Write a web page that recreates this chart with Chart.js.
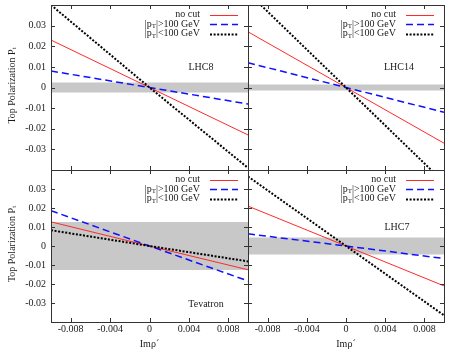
<!DOCTYPE html>
<html><head><meta charset="utf-8">
<script src="https://cdn.jsdelivr.net/npm/chart.js@4/dist/chart.umd.min.js"></script>
<style>
html,body{margin:0;padding:0;background:#fff;}
#wrap{position:relative;width:449px;height:362px;overflow:hidden;background:#fff;}
#wrap canvas{position:absolute;left:0;top:0;}
</style></head><body>
<div id="wrap">
<canvas id="c0" width="449" height="362"></canvas>
<canvas id="c1" width="449" height="362"></canvas>
<canvas id="c2" width="449" height="362"></canvas>
<canvas id="c3" width="449" height="362"></canvas>
</div>
<script>
// ---- data ----
const xValues = [-0.01, 0, 0.01];
const xTickValues = [-0.008, -0.004, 0, 0.004, 0.008];
const yTickValues = [-0.03, -0.02, -0.01, 0, 0.01, 0.02, 0.03];
const panelNames = ['LHC8', 'LHC14', 'Tevatron', 'LHC7'];
const seriesNames = ['no cut', '|pT|>100 GeV', '|pT|<100 GeV'];

const lhc8NoCut  = [0.023, 0, -0.023];
const lhc8HighPt = [0.008, 0, -0.008];
const lhc8LowPt  = [0.040, 0, -0.039];
const lhc8Band   = 0.0024;

const lhc14NoCut  = [0.027, 0, -0.027];
const lhc14HighPt = [0.012, 0, -0.012];
const lhc14LowPt  = [0.046, 0, -0.046];
const lhc14Band   = 0.0015;

const tevNoCut  = [0.0127, 0, -0.0125];
const tevHighPt = [0.0186, 0, -0.0184];
const tevLowPt  = [0.0083, 0, -0.0081];
const tevBand   = 0.0126;

const lhc7NoCut  = [0.021, 0, -0.021];
const lhc7HighPt = [0.0064, 0, -0.0066];
const lhc7LowPt  = [0.0366, 0, -0.0365];
const lhc7Band   = 0.0045;

const yTitle = 'Top Polarization P';
const yTitleSub = 't';
const xTitle = 'Im\u03C1\u00B4';

// ---- styling / layout ----
const FONT = "'Liberation Serif', 'DejaVu Serif', serif";
const TEXT = '#1a1a1a';
const RED = '#ff2a2a', BLUE = '#1010ff', BLACK = '#000000', GRAY = '#c8c8c8';

const panels = [
  {id:'c0', name:panelNames[0], box:[51,5,248,170],  s:[lhc8NoCut, lhc8HighPt, lhc8LowPt],   band:lhc8Band,  showX:false, showY:true,  label:[201,67]},
  {id:'c1', name:panelNames[1], box:[248,5,444,170], s:[lhc14NoCut, lhc14HighPt, lhc14LowPt], band:lhc14Band, showX:false, showY:false, label:[399,67]},
  {id:'c2', name:panelNames[2], box:[51,170,248,322], s:[tevNoCut, tevHighPt, tevLowPt],     band:tevBand,   showX:true,  showY:true,  label:[206,304]},
  {id:'c3', name:panelNames[3], box:[248,170,444,322], s:[lhc7NoCut, lhc7HighPt, lhc7LowPt], band:lhc7Band,  showX:true,  showY:false, label:[397,227]}
];

const seriesStyle = [
  {color:RED, width:1, dash:[], order:2},
  {color:BLUE, width:1.5, dash:[7,4], order:1},
  {color:BLACK, width:2, dash:[2,1.6], order:0}
];

function fmt(v){ const r = Number(v.toFixed(4)); return r === 0 ? '0' : String(r); }

const decor = {
  id:'decor',
  afterDraw(chart, args, o){
    const ctx = chart.ctx, a = chart.chartArea;
    const xs = chart.scales.x, ys = chart.scales.y;
    ctx.save();
    // inward tick marks
    ctx.strokeStyle = '#333'; ctx.lineWidth = 1;
    ctx.beginPath();
    xTickValues.forEach(v => {
      const px = Math.round(xs.getPixelForValue(v)) + 0.5;
      ctx.moveTo(px, a.bottom); ctx.lineTo(px, a.bottom - 4);
      ctx.moveTo(px, a.top); ctx.lineTo(px, a.top + 4);
    });
    yTickValues.forEach(v => {
      const py = Math.round(ys.getPixelForValue(v)) + 0.5;
      ctx.moveTo(a.left, py); ctx.lineTo(a.left + 4, py);
      ctx.moveTo(a.right, py); ctx.lineTo(a.right - 4, py);
    });
    ctx.stroke();
    // frame
    ctx.strokeStyle = '#333';
    ctx.strokeRect(a.left + 0.5, a.top + 0.5, a.right - a.left, a.bottom - a.top);
    // legend
    ctx.fillStyle = TEXT; ctx.textBaseline = 'middle';
    const rows = [9.5, 19, 28.5];
    const tx = a.right - 48;
    seriesNames.forEach((name, i) => {
      const y = a.top + rows[i];
      ctx.font = '10px ' + FONT;
      if (i === 0) {
        ctx.textAlign = 'right';
        ctx.fillText(name, tx, y);
      } else {
        const m = name.match(/^\|p(T)\|(.*)$/);
        const p1 = '|p', sub = m[1], p2 = '|' + m[2];
        ctx.font = '10px ' + FONT; const w1 = ctx.measureText(p1).width, w3 = ctx.measureText(p2).width;
        ctx.font = '7px ' + FONT; const w2 = ctx.measureText(sub).width;
        let x = tx - (w1 + w2 + w3);
        ctx.textAlign = 'left';
        ctx.font = '10px ' + FONT; ctx.fillText(p1, x, y); x += w1;
        ctx.font = '7px ' + FONT; ctx.fillText(sub, x, y + 2.5); x += w2;
        ctx.font = '10px ' + FONT; ctx.fillText(p2, x, y);
      }
      const st = seriesStyle[i];
      ctx.strokeStyle = st.color; ctx.lineWidth = st.width; ctx.setLineDash(st.dash);
      ctx.beginPath(); ctx.moveTo(a.right - 38, Math.round(y) + 0.5); ctx.lineTo(a.right - 10, Math.round(y) + 0.5); ctx.stroke();
      ctx.setLineDash([]);
    });
    // panel label
    ctx.font = '10px ' + FONT; ctx.fillStyle = TEXT; ctx.textAlign = 'center';
    ctx.fillText(o.name, o.label[0], o.label[1]);
    // axis titles
    if (o.showY) {
      ctx.save();
      const cy = (a.top + a.bottom) / 2 - 2;
      ctx.translate(12, cy); ctx.rotate(-Math.PI / 2);
      ctx.font = '10px ' + FONT; const w1 = ctx.measureText(yTitle).width;
      ctx.font = '7px ' + FONT; const w2 = ctx.measureText(yTitleSub).width;
      let x = -(w1 + w2) / 2;
      ctx.textAlign = 'left';
      ctx.font = '10px ' + FONT; ctx.fillText(yTitle, x, 0);
      ctx.font = '7px ' + FONT; ctx.fillText(yTitleSub, x + w1, 2.5);
      ctx.restore();
    }
    if (o.showX) {
      ctx.font = '10px ' + FONT; ctx.textAlign = 'center';
      ctx.fillText(xTitle, (a.left + a.right) / 2, 344);
    }
    ctx.restore();
  }
};

panels.forEach(p => {
  const [L, T, R, B] = p.box;
  const datasets = p.s.map((vals, i) => ({
    label: seriesNames[i],
    data: xValues.map((x, k) => ({x, y: vals[k]})),
    borderColor: seriesStyle[i].color,
    borderWidth: seriesStyle[i].width,
    borderDash: seriesStyle[i].dash,
    order: seriesStyle[i].order,
    pointRadius: 0, tension: 0, fill: false
  }));
  datasets.push({
    label: 'band+', data: xValues.map(x => ({x, y: p.band})),
    borderWidth: 0, borderColor: 'rgba(0,0,0,0)', backgroundColor: GRAY,
    pointRadius: 0, fill: '+1', order: 5
  });
  datasets.push({
    label: 'band-', data: xValues.map(x => ({x, y: -p.band})),
    borderWidth: 0, borderColor: 'rgba(0,0,0,0)', backgroundColor: GRAY,
    pointRadius: 0, fill: false, order: 6
  });
  new Chart(document.getElementById(p.id), {
    type: 'line',
    data: { datasets },
    options: {
      responsive: false, animation: false, events: [],
      layout: { padding: { left: 0, top: T, right: 449 - R, bottom: 0 } },
      plugins: { legend: { display: false }, tooltip: { enabled: false }, decor: p },
      scales: {
        x: {
          type: 'linear', min: -0.01, max: 0.01,
          grid: { display: false, drawTicks: false }, border: { display: false },
          afterBuildTicks: s => { s.ticks = xTickValues.map(v => ({value: v})); },
          afterFit: s => { s.height = 362 - B; s.paddingLeft = 0; s.paddingRight = 0; },
          ticks: { display: p.showX, padding: 1, maxRotation: 0, autoSkip: false, color: TEXT,
                   font: { family: FONT, size: 10 }, callback: v => fmt(v) }
        },
        y: {
          type: 'linear', min: -0.04, max: 0.04,
          grid: { display: false, drawTicks: false }, border: { display: false },
          afterBuildTicks: s => { s.ticks = yTickValues.map(v => ({value: v})); },
          afterFit: s => { s.width = L; s.paddingTop = 0; s.paddingBottom = 0; },
          ticks: { display: p.showY, padding: 5, autoSkip: false, color: TEXT,
                   font: { family: FONT, size: 10 }, callback: v => fmt(v) }
        }
      }
    },
    plugins: [decor]
  });
});
</script>
</body></html>
